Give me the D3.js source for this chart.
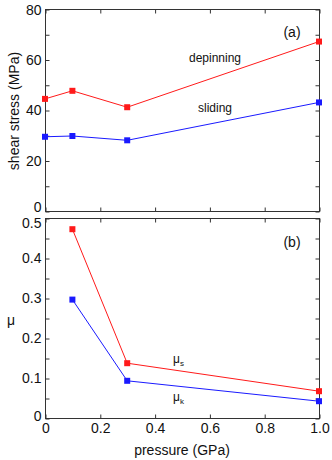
<!DOCTYPE html>
<html><head><meta charset="utf-8">
<script src="https://cdn.jsdelivr.net/npm/d3@7"></script>
<style>
body{margin:0;background:#fff;}
svg text{font-family:"Liberation Sans",Arial,Helvetica,sans-serif;fill:#111;}
</style></head>
<body><svg id="c" width="332" height="460"></svg>
<script>
// data
const pressure = [0, 0.1, 0.3, 1.0];
const depinning = [44.4, 47.6, 41.1, 67.1];
const sliding = [29.4, 29.7, 28.0, 43.0];
const muPressure = [0.1, 0.3, 1.0];
const muS = [0.472, 0.137, 0.067];
const muK = [0.296, 0.093, 0.042];
const xTicks = [0, 0.2, 0.4, 0.6, 0.8, 1.0];
const xTickLabels = ["0", "0.2", "0.4", "0.6", "0.8", "1.0"];
const topYTicks = [0, 20, 40, 60, 80];
const topYMinor = [10, 30, 50, 70];
const botYTicks = [0, 0.1, 0.2, 0.3, 0.4, 0.5];
const botYLabels = ["0", "0.1", "0.2", "0.3", "0.4", "0.5"];
const botYMinor = [0.05, 0.15, 0.25, 0.35, 0.45];

const svg = d3.select("#c");
const L = 45, R = 319;
const x = d3.scaleLinear().domain([0, 1]).range([L, R]);
const yTop = d3.scaleLinear().domain([0, 80]).range([211, 9]);
const yBot = d3.scaleLinear().domain([0, 0.5]).range([418, 218]);
const RED = "#ff1a1a", BLUE = "#1a1aff", AX = "#333";
const TK = 4;

function panel(y, yMajor, yLabels, yMinor, showX, nudge) {
  const g = svg.append("g");
  const [y0, y1] = y.range();
  g.append("rect").attr("x", L + 0.5).attr("y", y1 + 0.5).attr("width", R - L).attr("height", y0 - y1)
    .attr("fill", "none").attr("stroke", AX).attr("stroke-width", 1);
  const styleAx = sel => { sel.select(".domain").remove(); sel.selectAll("line").attr("stroke", AX); sel.selectAll("text").attr("font-size", 14).attr("fill", "#111"); };
  const left = g.append("g").attr("transform", `translate(${L + 0.5},0.5)`)
    .call(d3.axisLeft(y).tickValues(yMajor).tickSize(-TK).tickPadding(4).tickFormat((d, i) => yLabels[i]))
    .call(styleAx);
  left.selectAll("text").attr("y", (d, i) => nudge[i] || 0);
  g.append("g").attr("transform", `translate(${L + 0.5},0.5)`)
    .call(d3.axisLeft(y).tickValues(yMinor).tickSize(-TK).tickFormat("")).call(styleAx);
  g.append("g").attr("transform", `translate(${R + 0.5},0.5)`)
    .call(d3.axisRight(y).tickValues(yMajor.concat(yMinor)).tickSize(-TK).tickFormat("")).call(styleAx);
  g.append("g").attr("transform", `translate(0.5,${y0 + 0.5})`)
    .call(d3.axisBottom(x).tickValues(xTicks).tickSize(-TK).tickPadding(5)
      .tickFormat((d, i) => showX ? xTickLabels[i] : "")).call(styleAx);
  g.append("g").attr("transform", `translate(0.5,${y1 + 0.5})`)
    .call(d3.axisTop(x).tickValues(xTicks).tickSize(-TK).tickFormat("")).call(styleAx);
  g.selectAll("text").attr("font-family", null);
}

panel(yTop, topYTicks, topYTicks.map(String), topYMinor, false, [-4, 0, 0, 0, 1]);
panel(yBot, botYTicks, botYLabels, botYMinor, true, [-2, 0, 0, 0, 0, 5]);

function series(xs, ys, y, color) {
  const line = d3.line().x(d => x(d[0])).y(d => y(d[1]));
  const pts = xs.map((v, i) => [v, ys[i]]);
  svg.append("path").datum(pts).attr("d", line).attr("fill", "none").attr("stroke", color).attr("stroke-width", 1);
  svg.selectAll(null).data(pts).enter().append("rect")
    .attr("x", d => x(d[0]) - 3).attr("y", d => y(d[1]) - 3).attr("width", 6).attr("height", 6).attr("fill", color);
}
series(pressure, depinning, yTop, RED);
series(pressure, sliding, yTop, BLUE);
series(muPressure, muS, yBot, RED);
series(muPressure, muK, yBot, BLUE);

svg.append("text").attr("transform", "translate(19,111) rotate(-90)").attr("text-anchor", "middle")
  .attr("font-size", 14).text("shear stress (MPa)");
svg.append("text").attr("x", 11).attr("y", 325).attr("text-anchor", "middle").attr("font-size", 14).text("μ");
svg.append("text").attr("x", 182).attr("y", 455).attr("text-anchor", "middle").attr("font-size", 14).text("pressure (GPa)");

svg.append("text").attr("x", 292).attr("y", 37).attr("text-anchor", "middle").attr("font-size", 14).text("(a)");
svg.append("text").attr("x", 292).attr("y", 247).attr("text-anchor", "middle").attr("font-size", 14).text("(b)");
svg.append("text").attr("x", 215).attr("y", 62).attr("text-anchor", "middle").attr("font-size", 12).text("depinning");
svg.append("text").attr("x", 215).attr("y", 112).attr("text-anchor", "middle").attr("font-size", 12).text("sliding");
const ms = svg.append("text").attr("x", 173).attr("y", 363).attr("font-size", 12);
ms.append("tspan").text("μ");
ms.append("tspan").attr("font-size", 8).attr("dy", 3).text("s");
const mk = svg.append("text").attr("x", 173).attr("y", 401).attr("font-size", 12);
mk.append("tspan").text("μ");
mk.append("tspan").attr("font-size", 8).attr("dy", 3).text("k");
</script></body></html>
